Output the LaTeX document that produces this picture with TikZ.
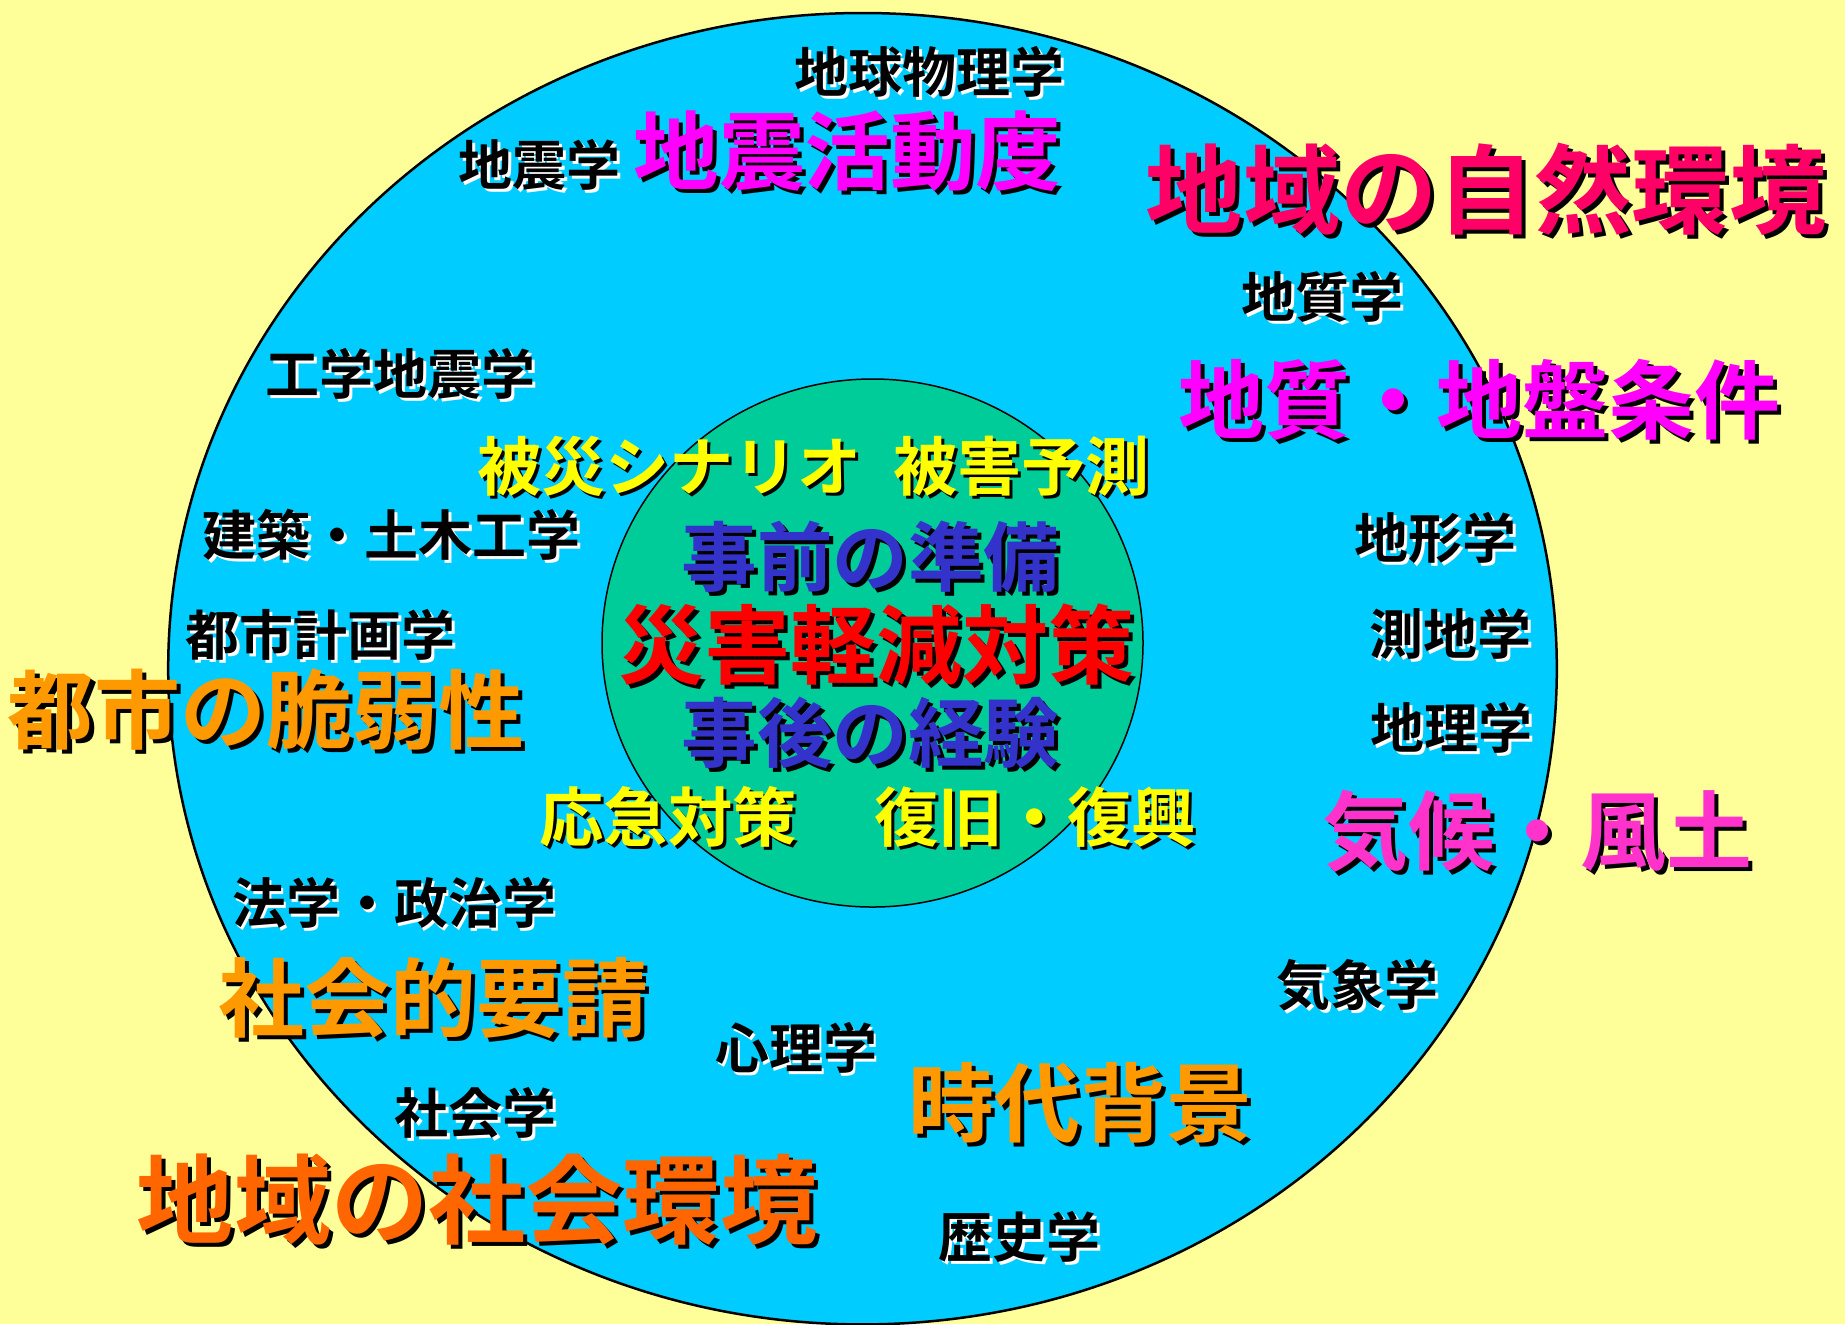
\documentclass[tikz,border=0pt]{standalone}
\usepackage{fontspec}
\newfontfamily\jp{Noto Sans CJK JP Bold}
\definecolor{bgyellow}{HTML}{FFFF99}
\definecolor{outercyan}{HTML}{00CCFF}
\definecolor{innergreen}{HTML}{00CC99}
\definecolor{magentaA}{HTML}{FF00FF}
\definecolor{pinkmag}{HTML}{FF33CC}
\definecolor{crimsonpink}{HTML}{FF0066}
\definecolor{orangeA}{HTML}{FF9900}
\definecolor{orangeB}{HTML}{FF6600}
\definecolor{blueA}{HTML}{3333CC}
\definecolor{redA}{HTML}{FF0000}
\definecolor{yellowA}{HTML}{FFFF00}
\newcommand\shlabel[8]{%
  \node[lbl, text=#6, font=\jp\fontsize{#4pt}{#4pt}\selectfont] (#1-s) at ({#2+#7},{#3+0.76*#4+#7}) {#8};
  \node[lbl, text=#5, font=\jp\fontsize{#4pt}{#4pt}\selectfont] (#1) at ({#2},{#3+0.76*#4}) {#8};
}
\begin{document}
\begin{tikzpicture}[x=0.5pt,y=-0.5pt, lbl/.style={anchor=base,inner sep=0pt,outer sep=0pt}]
\fill[bgyellow] (0,0) rectangle (1845,1324);
\useasboundingbox (0,0) rectangle (1845,1324);
\filldraw[fill=outercyan, draw=black, line width=1.25pt] (862.5,668.7) ellipse [x radius=694.3, y radius=655.7];
\filldraw[fill=innergreen, draw=black, line width=0.75pt] (872.5,643) ellipse [x radius=270.5, y radius=264];
% big labels
\shlabel{zsk}{847.5}{151}{42.8}{magentaA}{black}{4}{地震活動度}
\shlabel{shizen}{1486}{190}{48.6}{crimsonpink}{black}{4}{地域の自然環境}
\shlabel{jiban}{1479}{400}{43}{magentaA}{black}{4}{地質・地盤条件}
\shlabel{kiko}{1537.5}{831}{43}{pinkmag}{black}{4}{気候・風土}
\shlabel{zeijaku}{266}{710}{43}{orangeA}{black}{4}{都市の脆弱性}
\shlabel{yosei}{433}{998}{43}{orangeA}{black}{4}{社会的要請}
\shlabel{jidai}{1080}{1103}{43}{orangeA}{black}{4}{時代背景}
\shlabel{shakai}{477}{1200}{48.6}{orangeB}{black}{4}{地域の社会環境}
% centre
\shlabel{jizen}{870.5}{557}{37.8}{blueA}{black}{4}{事前の準備}
\shlabel{gensai}{876}{645}{43}{redA}{black}{4}{災害軽減対策}
\shlabel{jigo}{870.5}{733}{37.8}{blueA}{black}{4}{事後の経験}
% yellow
\shlabel{scenario}{669}{466}{32}{yellowA}{black}{3}{被災シナリオ}
\shlabel{yosoku}{1021}{466}{32}{yellowA}{black}{3}{被害予測}
\shlabel{okyu}{668}{817}{32.2}{yellowA}{black}{3}{応急対策}
\shlabel{fukko}{1035}{817}{32.2}{yellowA}{black}{3}{復旧・復興}
% small disciplines
\shlabel{chikyu}{929.5}{72}{27}{black}{white}{2.5}{地球物理学}
\shlabel{jishin}{539.5}{165}{27}{black}{white}{2.5}{地震学}
\shlabel{chishitsu}{1322.5}{297}{27}{black}{white}{2.5}{地質学}
\shlabel{kogaku}{400.5}{374}{27}{black}{white}{2.5}{工学地震学}
\shlabel{kenchiku}{391.5}{535}{27}{black}{white}{2.5}{建築・土木工学}
\shlabel{chikei}{1435.5}{538}{27}{black}{white}{2.5}{地形学}
\shlabel{sokuchi}{1450.5}{634}{27}{black}{white}{2.5}{測地学}
\shlabel{toshi}{320.5}{635}{27}{black}{white}{2.5}{都市計画学}
\shlabel{chiri}{1451.5}{728}{27}{black}{white}{2.5}{地理学}
\shlabel{hogaku}{394}{903}{27}{black}{white}{2.5}{法学・政治学}
\shlabel{kisho}{1357.5}{985}{27}{black}{white}{2.5}{気象学}
\shlabel{shinri}{796}{1048}{27}{black}{white}{2.5}{心理学}
\shlabel{shakaigaku}{475.5}{1113}{27}{black}{white}{2.5}{社会学}
\shlabel{rekishi}{1019.5}{1237}{27}{black}{white}{2.5}{歴史学}
\end{tikzpicture}
\end{document}
